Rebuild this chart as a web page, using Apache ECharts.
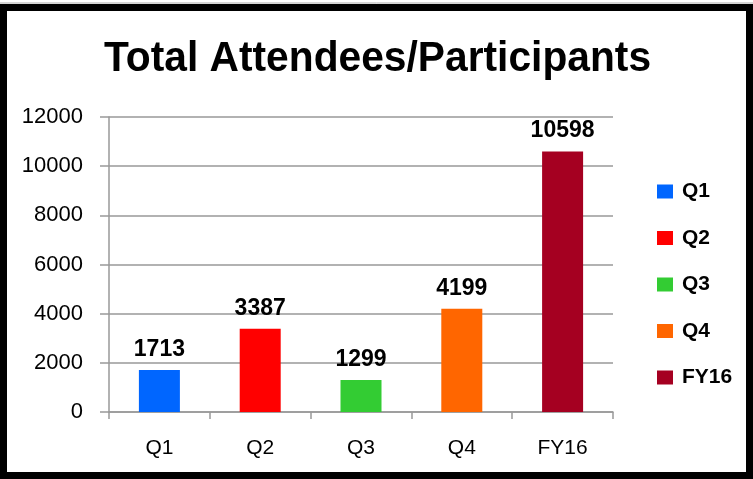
<!DOCTYPE html>
<html>
<head>
<meta charset="utf-8">
<script src="https://cdn.jsdelivr.net/npm/echarts@6/dist/echarts.min.js"></script>
<style>
html,body{margin:0;padding:0;background:#fff;}
#chart{width:753px;height:479px;}
</style>
</head>
<body>
<div id="chart"></div>
<script>
const categories = ['Q1', 'Q2', 'Q3', 'Q4', 'FY16'];
const values = [1713, 3387, 1299, 4199, 10598];
const colors = ['#0066FF', '#FF0000', '#33CC33', '#FF6600', '#A50021'];
const yTicks = { min: 0, max: 12000, interval: 2000 };
const titleText = 'Total Attendees/Participants';

const chart = echarts.init(document.getElementById('chart'));
const series = categories.map((name, i) => ({
  name: name,
  type: 'bar',
  stack: 'all',
  barWidth: 41,
  itemStyle: { color: colors[i] },
  label: {
    show: true,
    position: 'top',
    distance: 9,
    color: '#000',
    fontFamily: 'Liberation Sans',
    fontWeight: 'bold',
    fontSize: 23
  },
  data: values.map((v, j) => (j === i ? v : null))
}));

chart.setOption({
  animation: false,
  backgroundColor: '#fff',
  legend: {
    orient: 'vertical',
    left: 652,
    top: 176,
    icon: 'rect',
    itemWidth: 16,
    itemHeight: 14,
    itemGap: 25.5,
    data: categories,
    textStyle: {
      fontFamily: 'Liberation Sans',
      fontWeight: 'bold',
      fontSize: 21,
      lineHeight: 20,
      color: '#000',
      padding: [0, 0, 0, 4]
    }
  },
  grid: { left: 109, right: 140, top: 117, bottom: 67 },
  xAxis: {
    type: 'category',
    data: categories,
    axisLine: { lineStyle: { color: '#999', width: 1.5 } },
    axisTick: { show: true, length: 7, lineStyle: { color: '#999', width: 1.5 } },
    axisLabel: { margin: 26, fontFamily: 'Liberation Sans', fontSize: 21, color: '#000' }
  },
  yAxis: {
    type: 'value',
    min: yTicks.min,
    max: yTicks.max,
    interval: yTicks.interval,
    axisLine: { show: true, lineStyle: { color: '#999', width: 1.5 } },
    axisTick: { show: true, length: 9, lineStyle: { color: '#999', width: 1.5 } },
    axisLabel: {
      margin: 26, fontFamily: 'Liberation Sans', fontSize: 22, color: '#000',
      formatter: v => String(v)
    },
    splitLine: { show: true, lineStyle: { color: '#999', width: 1.5 } }
  },
  series: series,
  graphic: [
    {
      type: 'text',
      x: 377.5, y: 38,
      scaleX: 0.97,
      style: {
        text: titleText,
        fontFamily: 'Liberation Sans',
        fontWeight: 'bold',
        fontSize: 42,
        fill: '#000',
        align: 'center',
        verticalAlign: 'top'
      },
      z: 100
    },
    { type: 'line', shape: { x1: 0, y1: 3, x2: 753, y2: 3 }, style: { stroke: '#aaa', lineWidth: 1 }, z: 100 },
    { type: 'rect', shape: { x: 3.5, y: 7.5, width: 746, height: 468 }, style: { fill: 'none', stroke: '#000', lineWidth: 7 }, z: 100 }
  ]
});
</script>
</body>
</html>
